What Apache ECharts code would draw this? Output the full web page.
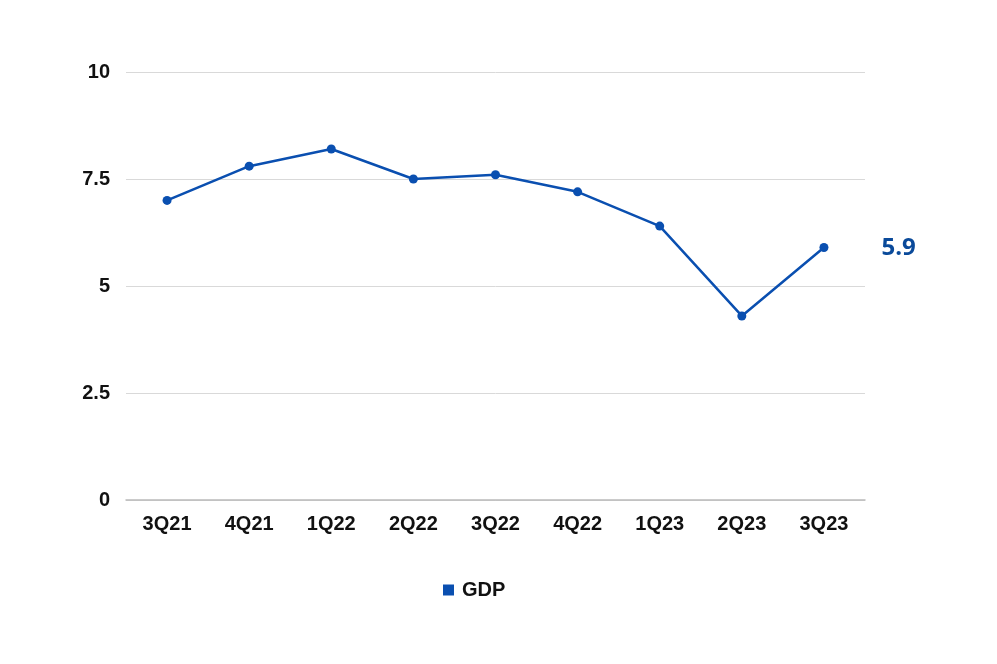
<!DOCTYPE html>
<html>
<head>
<meta charset="utf-8">
<script src="https://cdn.jsdelivr.net/npm/echarts@6/dist/echarts.min.js"></script>
<style>
  html, body { margin: 0; padding: 0; background: #fff; }
  #chart { width: 997px; height: 664px; }
</style>
</head>
<body>
<div id="chart"></div>
<script>
// 季度
var quarters = ['3Q21', '4Q21', '1Q22', '2Q22', '3Q22', '4Q22', '1Q23', '2Q23', '3Q23'];
// GDP 增速
var gdp = [7.0, 7.8, 8.2, 7.5, 7.6, 7.2, 6.4, 4.3, 5.9];
var yTicks = [0, 2.5, 5, 7.5, 10];

var lineColor = '#0a4fb0';
var labelFont = 'Liberation Sans, Arial, Helvetica, sans-serif';

var myChart = echarts.init(document.getElementById('chart'));

// 只给最后一个点显示数值
var seriesData = gdp.map(function (v, i) {
    if (i === gdp.length - 1) {
        return {
            value: v,
            label: {
                show: true,
                position: 'right',
                distance: 53,
                formatter: '{c}',
                color: '#0a4a9a',
                fontSize: 24,
                fontWeight: 'bold',
                fontFamily: 'Open Sans, Noto Sans, sans-serif',
                offset: [0, 1]
            }
        };
    }
    return v;
});

var option = {
    animation: false,
    color: [lineColor],
    grid: {
        left: 126,
        right: 132,
        top: 72,
        bottom: 164
    },
    legend: {
        data: ['GDP'],
        top: 575,
        left: 438,
        icon: 'rect',
        itemWidth: 11,
        itemHeight: 11,
        itemGap: 10,
        textStyle: {
            color: '#111',
            fontSize: 20,
            fontWeight: 'bold',
            fontFamily: labelFont,
            padding: [0, 0, 0, 3]
        }
    },
    xAxis: {
        type: 'category',
        data: quarters,
        boundaryGap: true,
        axisLine: { lineStyle: { color: '#bbbbbb', width: 1.5 } },
        axisTick: { show: false },
        axisLabel: {
            color: '#111',
            fontSize: 20,
            fontWeight: 'bold',
            fontFamily: labelFont,
            margin: 14
        }
    },
    yAxis: {
        type: 'value',
        min: yTicks[0],
        max: yTicks[yTicks.length - 1],
        interval: 2.5,
        axisLine: { show: false },
        axisTick: { show: false },
        splitLine: { lineStyle: { color: '#d9d9d9', width: 1 } },
        axisLabel: {
            color: '#111',
            fontSize: 20,
            fontWeight: 'bold',
            fontFamily: labelFont,
            margin: 16
        }
    },
    series: [{
        name: 'GDP',
        type: 'line',
        data: seriesData,
        symbol: 'circle',
        symbolSize: 9,
        lineStyle: { width: 2.5, color: lineColor },
        itemStyle: { color: lineColor },
        label: { show: false }
    }]
};

myChart.setOption(option);
</script>
</body>
</html>
